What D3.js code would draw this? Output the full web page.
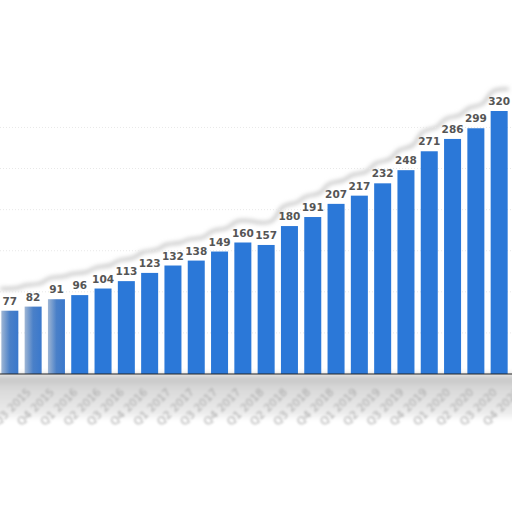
<!DOCTYPE html>
<html><head><meta charset="utf-8">
<script src="https://cdn.jsdelivr.net/npm/d3@7"></script>
<style>body{margin:0;background:#fff}svg{display:block}</style>
</head><body>
<svg id="c" width="512" height="512"></svg>
<script>
const categories = ["Q3 2015","Q4 2015","Q1 2016","Q2 2016","Q3 2016","Q4 2016","Q1 2017","Q2 2017","Q3 2017","Q4 2017","Q1 2018","Q2 2018","Q3 2018","Q4 2018","Q1 2019","Q2 2019","Q3 2019","Q4 2019","Q1 2020","Q2 2020","Q3 2020","Q4 2020"];
const values = [77,82,91,96,104,113,123,132,138,149,160,157,180,191,207,217,232,248,271,286,299,320];

const svg = d3.select("#c");
const defs = svg.append("defs");
defs.append("filter").attr("id","blur").attr("x","-20%").attr("y","-50%").attr("width","140%").attr("height","200%")
  .append("feGaussianBlur").attr("stdDeviation",3);
defs.append("filter").attr("id","blurE").attr("x","-10%").attr("y","-50%").attr("width","120%").attr("height","200%")
  .append("feGaussianBlur").attr("stdDeviation",2);
defs.append("filter").attr("id","blur2").append("feGaussianBlur").attr("stdDeviation",1);
const g1 = defs.append("linearGradient").attr("id","band").attr("x1",0).attr("y1",0).attr("x2",0).attr("y2",1);
g1.append("stop").attr("offset","0%").attr("stop-color","#bdbdbd");
g1.append("stop").attr("offset","30%").attr("stop-color","#d8d8d8");
g1.append("stop").attr("offset","100%").attr("stop-color","#eeeeee");
const g2 = defs.append("linearGradient").attr("id","fade").attr("x1",0).attr("y1",0).attr("x2",1).attr("y2",0);
g2.append("stop").attr("offset","0%").attr("stop-color","#9fb6d4");
g2.append("stop").attr("offset","50%").attr("stop-color","#4a80c8");
g2.append("stop").attr("offset","100%").attr("stop-color","#3a78cc");

const x = d3.scaleBand().domain(categories).range([-1, 510]).paddingInner(0.27).paddingOuter(0.1);
const y = d3.scaleLinear().domain([0, 320]).range([374, 111]);

// torn-edge shadow hugging the labels
const pts = [];
categories.forEach((c,i)=>{
  pts.push([x(c)-1, y(values[i]) - 22]);
  pts.push([x(c)+x.bandwidth()+1, y(values[i]) - 22]);
});
const edge = d3.line().curve(d3.curveBasis);
svg.append("path").attr("d", edge(pts)).attr("fill","none").attr("stroke","#c2c2c2").attr("stroke-width",3).attr("filter","url(#blurE)");

// faint dotted gridlines
svg.append("g").selectAll("line").data(y.ticks(8).filter(t=>t>0)).join("line")
  .attr("x1",0).attr("x2",512).attr("y1",d=>y(d)).attr("y2",d=>y(d))
  .attr("stroke","#e8e8e8").attr("stroke-dasharray","1,2");

// band below axis
svg.append("rect").attr("x",-10).attr("y",375).attr("width",532).attr("height",42)
  .attr("fill","url(#band)").attr("filter","url(#blur)");

// bars
svg.append("g").selectAll("rect").data(values).join("rect")
  .attr("x",(d,i)=>x(categories[i])).attr("width",x.bandwidth())
  .attr("y",d=>y(d)).attr("height",d=>y(0)-y(d))
  .attr("fill",(d,i)=> i<3 ? "url(#fade)" : "#2b78d8");

// value labels
svg.append("g").selectAll("text").data(values).join("text")
  .attr("x",(d,i)=>x(categories[i])+x.bandwidth()/2).attr("y",d=>y(d)-6)
  .attr("text-anchor","middle").attr("font-family","DejaVu Sans, sans-serif")
  .attr("font-weight","bold").attr("font-size",10.5).attr("fill","#555")
  .text(d=>d);

// baseline
svg.append("line").attr("x1",0).attr("x2",512).attr("y1",374).attr("y2",374).attr("stroke","#222").attr("stroke-width",1.2);

// x axis labels
const xa = svg.append("g").attr("transform","translate(0,374)")
  .call(d3.axisBottom(x).tickSize(0).tickPadding(0));
xa.select(".domain").remove();
xa.selectAll("text").attr("font-family","DejaVu Sans, sans-serif").attr("font-size",11)
  .attr("fill","#aaaaaa").attr("text-anchor","end")
  .attr("transform","translate(19,16) rotate(-45)").attr("dy","0.35em").attr("filter","url(#blur2)");
</script>
</body></html>
